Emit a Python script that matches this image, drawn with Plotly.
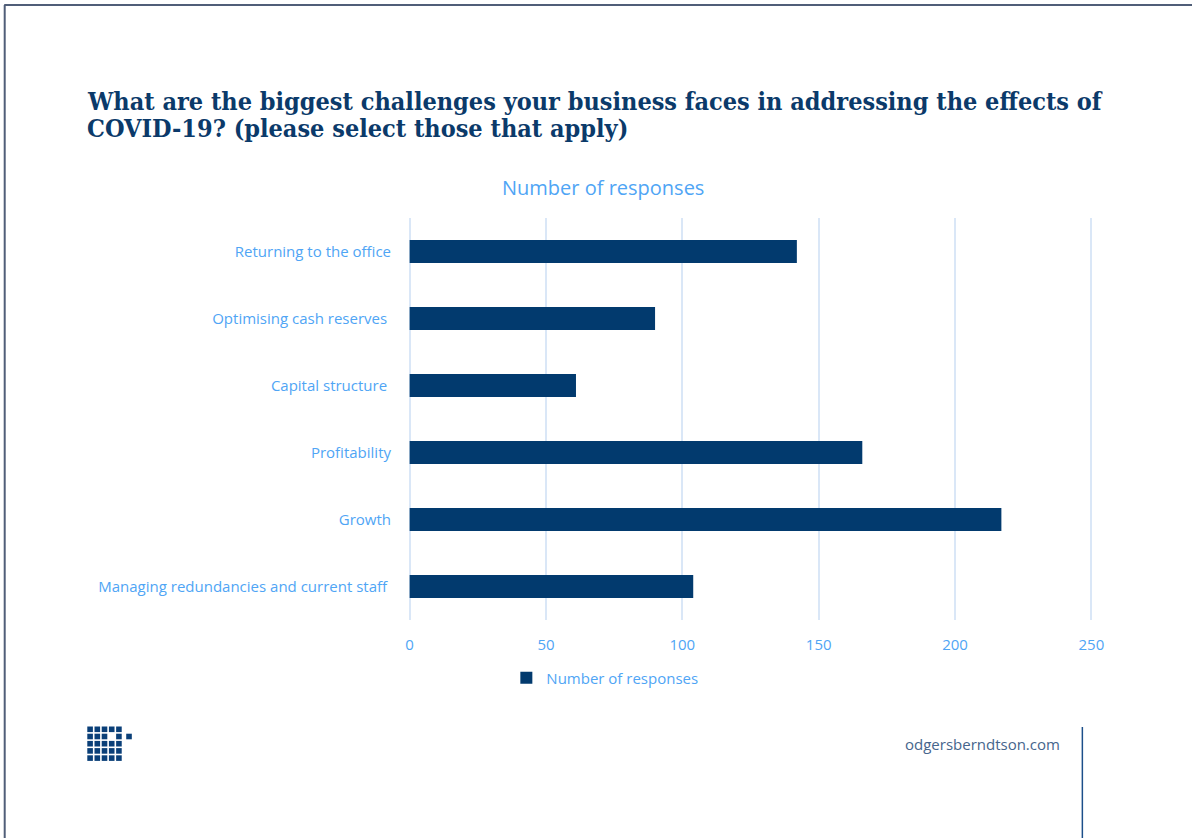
import plotly.graph_objects as go

# Survey results
categories = [
    "Managing redundancies and current staff ",
    "Growth",
    "Profitability",
    "Capital structure ",
    "Optimising cash reserves ",
    "Returning to the office",
]
responses = [104, 217, 166, 61, 90, 142]
x_ticks = [0, 50, 100, 150, 200, 250]

W, H = 1192, 838
X0_PX, X250_PX = 410, 1091      # pixel positions of 0 and 250 on the value axis
T, B = 218, 620                 # plot area top / bottom in pixels
PAD = 0.6                       # small range padding so edge gridlines are drawn
scale = (X250_PX - X0_PX) / 250
L = X0_PX - PAD * scale
R = X250_PX + PAD * scale

NAVY = "#023a6e"
LIGHT_BLUE = "#4fa5f5"
GRID = "#dae7f7"


def px(x):
    return (x - L) / (R - L)


def py(y):
    return (B - y) / (B - T)


fig = go.Figure(
    go.Bar(
        x=responses,
        y=categories,
        orientation="h",
        marker=dict(color=NAVY, line=dict(width=0)),
        name="Number of responses",
        showlegend=True,
    )
)

shapes = []
# page frame (top and left edges)
shapes.append(dict(type="line", xref="paper", yref="paper",
                   x0=px(5), x1=px(W + 10), y0=py(5), y1=py(5),
                   line=dict(color="#505e78", width=2)))
shapes.append(dict(type="line", xref="paper", yref="paper",
                   x0=px(5.5), x1=px(5.5), y0=py(5), y1=py(H + 10),
                   line=dict(color="#505e78", width=2)))
# footer divider
shapes.append(dict(type="line", xref="paper", yref="paper",
                   x0=px(1082), x1=px(1082), y0=py(727), y1=py(H + 10),
                   line=dict(color="#1c4f8a", width=1.5)))
# logo mark: 5x5 grid of squares with one gap, plus a detached square
pitch, size = 7.2, 5.6
gx, gy = 88.0, 726.5
for r in range(5):
    for c in range(5):
        if r == 1 and c == 3:
            continue
        x0, y0 = gx + c * pitch, gy + r * pitch
        shapes.append(dict(type="rect", xref="paper", yref="paper",
                           x0=px(x0), x1=px(x0 + size), y0=py(y0), y1=py(y0 + size),
                           fillcolor="#0a3f78", line=dict(width=0)))
x0, y0 = gx + 5.4 * pitch, gy + pitch
shapes.append(dict(type="rect", xref="paper", yref="paper",
                   x0=px(x0), x1=px(x0 + size), y0=py(y0), y1=py(y0 + size),
                   fillcolor="#0a3f78", line=dict(width=0)))

title_font = dict(family="DejaVu Serif Condensed, Liberation Serif, serif", size=25,
                  color="#0b3a6a", weight="bold")
annotations = [
    dict(text="What are the biggest challenges your business faces in addressing the effects of",
         xref="paper", yref="paper", x=px(86), y=py(86), xanchor="left", yanchor="top",
         height=27, valign="middle", showarrow=False, font=title_font),
    dict(text="COVID-19? (please select those that apply)",
         xref="paper", yref="paper", x=px(86), y=py(113), xanchor="left", yanchor="top",
         height=27, valign="middle", showarrow=False, font=title_font),
    dict(text="Number of responses", xref="paper", yref="paper",
         x=px(603), y=py(187), xanchor="center", yanchor="middle", showarrow=False,
         font=dict(family="Open Sans", size=20, color=LIGHT_BLUE)),
    dict(text="odgersberndtson.com", xref="paper", yref="paper",
         x=px(1062), y=py(744), xanchor="right", yanchor="middle", showarrow=False,
         font=dict(family="Open Sans", size=15, color="#46658c")),
]

fig.update_layout(
    width=W, height=H,
    margin=dict(l=L, r=W - R, t=T, b=H - B, autoexpand=False),
    paper_bgcolor="white", plot_bgcolor="white",
    bargap=0.66,
    xaxis=dict(range=[-PAD, 250 + PAD], tickvals=x_ticks, showgrid=True, gridcolor=GRID,
               gridwidth=1.5, zeroline=False, showline=False, ticks="",
               tickfont=dict(family="Open Sans", size=15, color=LIGHT_BLUE),
               ticklabelstandoff=14),
    yaxis=dict(categoryorder="array", categoryarray=categories, showgrid=False,
               showline=False, ticks="", ticklabelstandoff=16,
               tickfont=dict(family="Open Sans", size=15, color=LIGHT_BLUE)),
    legend=dict(orientation="h", x=px(605), xanchor="center", y=py(678), yanchor="middle",
                font=dict(family="Open Sans", size=15, color=LIGHT_BLUE)),
    shapes=shapes,
    annotations=annotations,
)

fig.write_html("out.html")
